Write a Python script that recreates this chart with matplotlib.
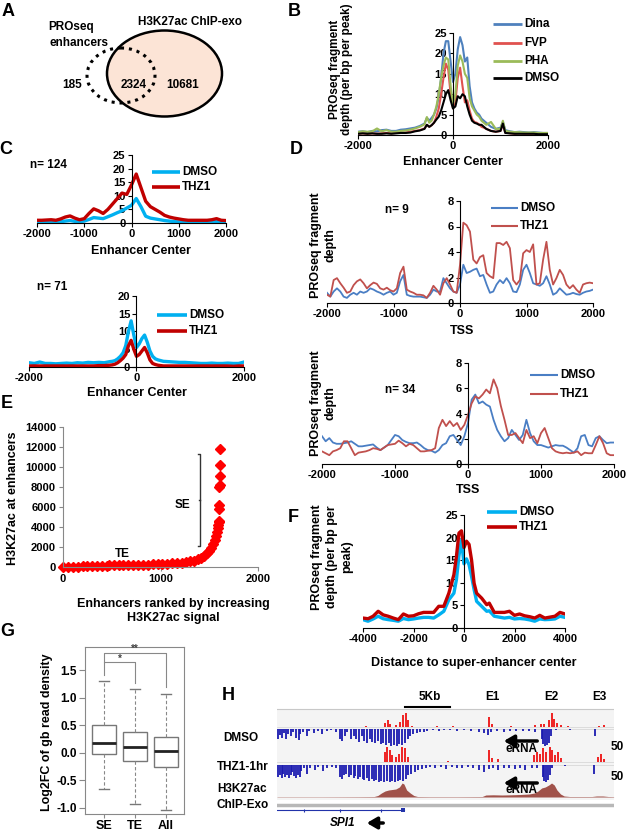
import numpy as np
import matplotlib.pyplot as plt
from matplotlib.lines import Line2D
from matplotlib.patches import Ellipse, Rectangle

plt.rcParams['font.family'] = ['Liberation Sans', 'DejaVu Sans']
plt.rcParams['font.weight'] = 'bold'
plt.rcParams['axes.unicode_minus'] = False

# ---------------- data ----------------
# A: Venn counts
venn_counts = [185, 2324, 10681]

# B: PROseq at enhancers, four drugs
b_x = [-2000, -1900, -1800, -1700, -1600, -1500, -1400, -1300, -1200, -1100, -1000, -900, -800, -700, -600,
       -550, -500, -450, -400, -350, -300, -250, -200, -150, -100, -50, 0, 50, 100, 150, 200, 250, 300, 350,
       400, 450, 500, 550, 600, 650, 700, 800, 900, 1000, 1050, 1100, 1200, 1300, 1400, 1500, 1600, 1700,
       1800, 1900, 2000]
b_dina = [0.8, 0.9, 0.7, 1.0, 0.9, 1.2, 1.3, 1.0, 1.0, 1.3, 1.4, 1.6, 1.8, 2.2, 2.8, 4.2, 3.5, 4.2, 5.0, 6.5,
          9.5, 14, 20, 23, 23, 18, 13, 15, 21, 24, 22, 18, 19, 12, 8, 6.5, 5.5, 5, 4, 3.5, 3, 2, 1.5, 1.8, 3.2,
          1.2, 0.9, 0.7, 0.8, 0.7, 0.6, 0.7, 0.6, 0.5, 0.5]
b_fvp = [0.3, 0.4, 0.3, 0.4, 0.3, 0.4, 0.5, 0.4, 0.5, 0.6, 0.6, 0.8, 1.0, 1.2, 1.6, 2.5, 2.0, 2.4, 3.0, 4.5,
         6.5, 10, 14, 17.5, 16, 10, 6.5, 8, 14, 16.5, 12, 8, 8.5, 6, 4, 3.2, 3, 2.6, 2, 1.8, 1.5, 1, 0.8, 1.0,
         2.6, 0.6, 0.4, 0.3, 0.4, 0.3, 0.3, 0.3, 0.3, 0.2, 0.2]
b_pha = [0.7, 0.9, 0.8, 0.9, 1.6, 0.9, 1.2, 0.8, 0.8, 1.0, 1.1, 1.3, 1.6, 2.0, 2.6, 4.4, 3.0, 3.5, 5.0, 7.0,
         10, 14, 17, 19, 18.5, 12, 7.5, 10, 17, 19.5, 18, 15, 14, 9, 7, 6, 5, 4.5, 3.5, 3, 2.5, 3.2, 1.5, 1.5,
         3.5, 1.0, 0.8, 0.7, 0.7, 0.6, 0.6, 0.6, 0.5, 0.5, 0.5]
b_dmso = [0.3, 0.4, 0.3, 0.4, 0.3, 0.3, 0.4, 0.3, 0.4, 0.5, 0.5, 0.6, 0.9, 1.1, 1.5, 2.5, 2.0, 2.4, 3.0, 3.8,
          4.5, 6, 8, 10, 11, 8.5, 6.5, 7, 9.5, 9, 10, 9.5, 7, 5, 3.5, 3, 2.8, 2.5, 2.5, 2, 1.5, 1, 0.8, 1.0,
          2.8, 0.5, 0.4, 0.3, 0.3, 0.3, 0.3, 0.3, 0.2, 0.2, 0.2]

# C: enhancers up (n=124) and down (n=71) after THZ1
c1_x = list(range(-2000, 2001, 100))
c1_dmso = [0.3, 0.3, 0.4, 0.4, 0.4, 0.5, 0.7, 0.9, 0.6, 0.5, 0.7, 1.3, 2.0, 1.8, 1.6, 2.3, 3.0, 3.8, 4.5, 5.5,
           6.5, 9, 6, 2.5, 1.8, 1.5, 1.2, 0.9, 0.7, 0.5, 0.4, 0.3, 0.3, 0.3, 0.3, 0.3, 0.3, 0.4, 0.6, 0.3, 0.3]
c1_thz1 = [1.0, 1.0, 1.1, 1.2, 1.0, 1.5, 2.2, 2.6, 1.8, 1.2, 1.6, 3.5, 5.2, 4.5, 3.5, 5, 7, 9, 11, 10.5,
           14, 18, 13, 8, 6, 5, 4, 2.8, 2.2, 1.8, 1.5, 1.2, 1.0, 1.0, 1.0, 1.0, 1.0, 1.2, 1.6, 1.0, 0.9]
c2_x = ([-2000, -1900, -1800, -1700, -1600, -1500, -1400, -1300, -1200, -1100, -1000, -900, -800, -700, -600, -500]
        + [-450, -400, -350, -300, -250, -200, -150, -100, -50, 0, 50, 100, 150, 200, 250, 300, 350, 400, 450, 500]
        + [600, 700, 800, 900, 1000, 1100, 1200, 1300, 1400, 1500, 1600, 1700, 1800, 1900, 2000])
c2_dmso = ([1.2, 1.0, 1.4, 1.0, 1.0, 0.9, 1.0, 1.1, 1.0, 1.2, 1.1, 1.3, 1.2, 1.3, 1.2, 1.5]
           + [1.6, 1.8, 2.3, 3, 4, 6, 10, 13, 9, 5.5, 6.5, 8, 9, 7, 4.5, 3, 2.3, 2, 1.8, 1.6]
           + [1.5, 1.4, 1.3, 1.3, 1.2, 1.1, 1.0, 1.0, 1.1, 1.0, 1.0, 1.1, 1.0, 1.0, 1.4])
c2_thz1 = ([0.3, 0.3, 0.3, 0.3, 0.3, 0.3, 0.3, 0.3, 0.3, 0.3, 0.3, 0.3, 0.3, 0.4, 0.4, 0.5]
           + [0.6, 0.8, 1.2, 1.8, 2.5, 3.5, 6, 7.5, 5, 3, 3.5, 4.5, 5.5, 4, 2, 1, 0.7, 0.5, 0.4, 0.3]
           + [0.3, 0.3, 0.3, 0.3, 0.3, 0.3, 0.3, 0.3, 0.3, 0.3, 0.3, 0.3, 0.2, 0.3, 0.3])

# D: promoters (TSS), n=9 and n=34
d_x = list(range(-2000, 2001, 50))
d1_dmso = [0.8, 0.5, 0.9, 1.15, 0.9, 0.5, 0.4, 0.65, 0.8, 0.65, 0.9, 0.8, 0.9, 1.15, 1.05, 0.9, 0.8, 0.65,
           0.8, 0.9, 0.65, 0.8, 1.7, 2.2, 0.65, 0.55, 0.5, 0.5, 0.5, 0.45, 0.4, 0.65, 1.05, 0.9, 0.9, 1.95,
           1.55, 1.15, 0.9, 0.8, 1.45, 3.0, 2.35, 2.45, 2.6, 2.7, 2.1, 2.2, 1.45, 0.8, 0.9, 1.45, 1.8, 1.55,
           1.95, 1.55, 0.9, 0.85, 1.45, 2.6, 3.0, 2.35, 1.55, 1.45, 1.35, 1.55, 2.1, 1.45, 0.65, 0.8, 1.15,
           0.9, 0.65, 0.7, 0.8, 0.7, 0.65, 0.8, 0.9, 0.95, 1.05]
d1_thz1 = [0.65, 0.5, 1.8, 1.95, 1.55, 1.2, 0.8, 0.9, 1.4, 1.7, 1.85, 1.55, 1.15, 1.4, 1.6, 1.5, 1.15, 1.05,
           1.2, 1.0, 0.9, 1.15, 2.35, 2.85, 1.05, 0.9, 0.8, 0.65, 0.65, 0.6, 0.4, 0.8, 1.35, 1.05, 0.65, 1.55,
           1.95, 1.45, 0.9, 0.8, 3.0, 6.3, 6.1, 5.6, 3.4, 3.1, 3.6, 3.75, 2.35, 2.1, 1.95, 4.7, 4.7, 4.55, 4.8,
           4.3, 1.8, 1.45, 1.8, 3.9, 4.15, 4.0, 4.6, 1.45, 1.55, 3.4, 4.8, 2.6, 1.45, 1.95, 2.6, 2.2, 1.45,
           1.15, 1.4, 1.05, 0.8, 1.45, 1.55, 1.6, 1.55]
d2_dmso = [2.2, 1.8, 2.05, 1.7, 1.6, 1.6, 1.65, 1.7, 1.8, 1.6, 1.4, 1.4, 1.45, 1.5, 1.55, 1.3, 1.1, 1.3, 1.5,
           1.9, 2.3, 2.2, 1.9, 1.75, 1.65, 1.65, 1.7, 1.5, 1.25, 1.1, 1.05, 0.9, 1.1, 1.5, 1.65, 2.2, 2.3, 1.9,
           1.5, 2.2, 3.25, 5.1, 5.5, 4.8, 4.95, 4.7, 4.55, 3.5, 2.7, 2.2, 1.8, 2.05, 2.7, 2.3, 1.9, 2.3, 3.5,
           2.45, 1.8, 1.5, 1.5, 1.4, 1.3, 1.4, 1.5, 1.45, 1.45, 1.3, 1.1, 0.9, 1.25, 2.2, 2.3, 1.5, 1.4, 2.05,
           2.2, 1.9, 1.65, 1.7, 1.7]
d2_thz1 = [1.0, 0.85, 0.7, 1.0, 1.1, 1.25, 1.8, 1.8, 1.25, 0.7, 0.9, 0.95, 1.0, 1.1, 1.25, 1.2, 1.1, 1.3, 1.5,
           1.55, 1.6, 1.85, 1.65, 1.4, 1.6, 1.5, 1.25, 1.0, 1.0, 1.05, 1.1, 1.25, 2.85, 3.5, 3.0, 3.4, 3.0,
           3.25, 2.7, 3.1, 3.9, 4.8, 5.35, 5.2, 5.5, 5.9, 5.6, 6.7, 6.0, 4.6, 3.5, 2.3, 2.3, 2.45, 2.05, 1.65,
           2.7, 2.05, 2.2, 1.65, 2.45, 2.85, 2.05, 1.25, 1.0, 0.9, 0.85, 0.9, 0.85, 0.9, 1.0, 0.7, 0.9, 0.85,
           0.85, 1.5, 2.2, 1.65, 0.85, 0.7, 0.7]

# E: enhancers ranked by H3K27ac signal
e_rank = [0, 50, 100, 150, 200, 250, 300, 350, 400, 450, 470, 520, 570, 620, 670, 720, 770, 820, 870, 920,
          970, 1020, 1070, 1120, 1170, 1220, 1260, 1300, 1340, 1380, 1420, 1450, 1480, 1500, 1520, 1540, 1555,
          1565, 1575, 1585, 1592, 1598, 1600, 1602, 1604, 1605, 1606, 1607, 1608, 1610]
e_signal = [20, 30, 40, 50, 60, 70, 80, 90, 100, 110, 160, 170, 180, 185, 190, 200, 210, 220, 240, 260,
            280, 300, 330, 360, 400, 450, 500, 560, 650, 780, 950, 1150, 1400, 1650, 1950, 2300, 2700,
            3100, 3500, 3900, 4200, 4500, 4650, 5800, 6200, 8000, 8200, 9100, 10200, 11800]

# F: super-enhancers
f_x = ([-4000, -3800, -3600, -3400, -3200, -3000, -2800, -2600, -2400, -2200, -2000, -1800, -1600, -1400, -1200, -1000]
       + [-800, -600, -400, -300, -200, -100, 0, 100, 200, 300, 400, 500, 700, 900]
       + [1000, 1200, 1400, 1600, 1800, 2000, 2200, 2400, 2600, 2800, 3000, 3200, 3400, 3600, 3800, 4000])
f_dmso = ([1.85, 1.5, 2.0, 2.6, 2.05, 1.85, 1.7, 1.5, 2.1, 1.85, 2.0, 2.2, 2.35, 2.35, 2.2, 2.9]
          + [3.7, 6.25, 7.7, 10.7, 16.0, 19.5, 14.2, 15.3, 14.0, 11.4, 8.5, 5.9, 4.8, 3.7]
          + [3.8, 2.6, 2.4, 2.2, 2.35, 2.0, 2.1, 2.0, 1.8, 1.5, 2.0, 1.85, 1.9, 2.0, 2.6, 2.35])
f_thz1 = ([2.2, 2.05, 2.6, 3.7, 2.9, 2.6, 2.2, 1.85, 3.1, 2.6, 2.7, 3.15, 3.45, 3.45, 3.45, 4.8]
          + [4.8, 7.7, 11.8, 15.8, 21.0, 21.5, 17.8, 19.2, 18.5, 15.0, 9.9, 7.7, 6.6, 5.15]
          + [5.5, 3.45, 3.45, 3.45, 3.7, 2.8, 3.1, 2.7, 2.5, 2.2, 2.8, 2.2, 2.4, 2.6, 3.45, 3.1])

# G: boxplot summary of Log2FC of gene-body read density
g_labels = ['SE', 'TE', 'All']
g_whislo = [-0.66, -0.92, -1.03]
g_q1 = [-0.03, -0.15, -0.25]
g_med = [0.17, 0.10, 0.03]
g_q3 = [0.51, 0.38, 0.28]
g_whishi = [1.30, 1.15, 1.07]

# H: SPI1 locus tracks (position in kb, signal scaled 0-50)
h_dmso_plus_pos = [9.9, 12.0, 12.3, 12.6, 13.2, 13.7, 14.0, 14.3, 14.6, 15.0, 17.8, 19.5, 23.6, 23.9, 26.0,
                   28.7, 29.3, 29.7, 30.2, 30.5, 30.8, 31.1, 31.5, 32.3, 35.8, 36.3]
h_dmso_plus_val = [3, 12, 20, 8, 5, 15, 35, 40, 20, 4, 2, 2, 30, 8, 3, 5, 10, 8, 20, 42, 25, 12, 6, 3, 4, 6]
h_dmso_minus_pos = [0.1, 0.3, 0.5, 0.8, 1.0, 1.2, 1.5, 1.8, 2.1, 2.4, 2.6, 2.9, 3.3, 3.6, 4.1, 4.5, 5.0, 5.5,
                    6.0, 6.6, 7.0, 7.2, 7.5, 7.8, 8.2, 8.5, 8.8, 9.1, 9.4, 9.7, 10.0, 10.3, 10.6, 10.9, 11.2,
                    11.5, 11.8, 12.1, 12.4, 12.7, 13.0, 13.3, 13.6, 13.9, 14.2, 14.5, 14.8, 15.1, 15.5, 15.9,
                    16.3, 16.7, 17.3, 18.0, 18.6, 19.2, 20.0, 20.8, 21.6, 22.4, 23.0, 23.4, 23.8, 24.4, 25.2,
                    25.9, 26.6, 27.3, 28.0, 28.7, 29.4, 29.6, 29.8, 30.0, 30.2, 30.4, 31.0, 32.5, 35.3]
h_dmso_minus_val = [30, 18, 25, 12, 28, 15, 22, 10, 25, 32, 14, 8, 20, 6, 12, 5, 14, 6, 4, 8, 30, 35, 20, 10,
                    28, 22, 30, 38, 20, 35, 40, 30, 38, 42, 35, 45, 40, 48, 42, 50, 46, 50, 44, 48, 40, 30,
                    22, 15, 12, 8, 10, 5, 4, 5, 3, 4, 6, 4, 5, 8, 12, 18, 10, 6, 8, 5, 7, 5, 6, 10, 30, 45,
                    50, 48, 40, 20, 4, 3, 20]
h_thz1_plus_pos = [12.0, 12.2, 12.5, 12.8, 13.2, 13.6, 13.9, 14.2, 14.5, 19.0, 23.6, 23.9, 24.5, 28.6, 28.9,
                   29.2, 29.6, 29.9, 30.3, 30.6, 30.9, 31.2, 31.5, 35.7, 36.0, 36.3]
h_thz1_plus_val = [30, 45, 35, 20, 15, 25, 45, 40, 15, 3, 35, 12, 8, 20, 30, 25, 40, 30, 45, 35, 20, 30, 12,
                   15, 25, 8]
h_thz1_minus_pos = [0.1, 0.3, 0.5, 0.7, 0.9, 1.1, 1.3, 1.5, 1.7, 1.9, 2.1, 2.3, 2.5, 2.7, 3.0, 3.3, 3.7, 4.2,
                    4.6, 5.1, 5.6, 6.1, 6.6, 7.0, 7.2, 7.4, 7.7, 8.0, 8.2, 8.5, 8.7, 9.0, 9.2, 9.5, 9.7, 10.0,
                    10.2, 10.5, 10.8, 11.0, 11.3, 11.6, 11.9, 12.2, 12.5, 12.8, 13.1, 13.4, 13.7, 14.0, 14.3,
                    14.6, 14.9, 15.3, 15.7, 16.1, 16.5, 17.0, 17.6, 18.2, 18.8, 19.4, 20.0, 20.6, 21.2, 21.8,
                    22.4, 23.0, 23.5, 24.0, 24.6, 25.2, 25.8, 26.4, 27.0, 27.6, 28.3, 28.9, 29.5, 29.7, 29.9,
                    30.1, 30.3, 30.6, 32.0, 35.2]
h_thz1_minus_val = [35, 30, 38, 25, 35, 28, 38, 30, 20, 32, 38, 30, 35, 18, 10, 25, 8, 15, 6, 18, 8, 5, 10,
                    35, 40, 30, 25, 35, 28, 38, 32, 42, 35, 40, 45, 38, 46, 42, 48, 44, 50, 46, 50, 48, 50,
                    46, 50, 48, 44, 46, 40, 30, 25, 20, 15, 12, 8, 6, 10, 5, 12, 6, 8, 10, 5, 8, 15, 20, 12,
                    8, 14, 10, 8, 12, 9, 16, 10, 8, 35, 48, 50, 45, 30, 8, 4, 25]
h_k27_pos = [0, 5, 9, 10.8, 11.2, 11.6, 12.0, 12.4, 12.8, 13.2, 13.6, 13.9, 14.1, 14.4, 14.8, 15.2, 15.6, 17,
             20, 22.8, 23.2, 24, 25, 26, 27, 28, 28.6, 29.0, 29.4, 29.8, 30.2, 30.5, 30.8, 31.1, 31.5, 31.9,
             32.5, 35, 35.5, 36.2, 36.8, 37.4]
h_k27_val = [0.3, 0.3, 0.4, 0.5, 1.5, 4, 6, 7, 7.5, 8, 10, 14, 13, 7, 4, 1.5, 0.5, 0.4, 0.4, 0.5, 2, 2.2, 2,
             2.2, 2.5, 3, 4, 6, 9, 10, 12, 14, 12, 7, 3, 1, 0.5, 0.5, 1, 1, 0.5, 0.4]

# ---------------- figure ----------------
W, H = 628, 834
fig = plt.figure(figsize=(W / 100, H / 100), dpi=100)

def add_ax(x0, y0, x1, y1):
    return fig.add_axes([x0 / W, 1 - y1 / H, (x1 - x0) / W, (y1 - y0) / H])

def ftext(x, y, s, size=8, ha='center', va='center', **kw):
    fig.text(x / W, 1 - y / H, s, size=size, ha=ha, va=va, weight='bold', **kw)

def fline(x0, x1, y, color, lw):
    fig.add_artist(Line2D([x0 / W, x1 / W], [1 - y / H, 1 - y / H], color=color, lw=lw,
                          solid_capstyle='butt'))

def legend(names, colors, lw, x0, x1, ys, size=8):
    for n, c, y in zip(names, colors, ys):
        fline(x0, x1, y, c, lw)
        ftext(x1 + 2, y, n, size=size, ha='left')

def excel(ax, xlim, ylim, xticks, yticks):
    ax.set_xlim(*xlim)
    ax.set_ylim(*ylim)
    for s in ('top', 'right'):
        ax.spines[s].set_visible(False)
    ax.spines['left'].set_position(('data', 0))
    ax.set_xticks(xticks)
    ax.set_yticks(yticks)
    ax.tick_params(labelsize=8, length=3, width=0.8, pad=1.5)
    ax.patch.set_alpha(0)

# panel letters
for letter, x, y in [('A', 8, 11), ('B', 294, 11), ('C', 6, 149), ('D', 296, 149),
                     ('E', 7, 403), ('F', 293, 517), ('G', 7, 632), ('H', 228, 696)]:
    ftext(x, y, letter, size=13)

# overlay in pixel coordinates for the Venn and annotations (below figure texts)
ov = fig.add_axes([0, 0, 1, 1])
ov.set_xlim(0, W)
ov.set_ylim(H, 0)
ov.axis('off')
ov.set_zorder(2)

# A: Venn
ov.add_patch(Ellipse((164.5, 73.5), 115, 86, fc='#FCE4D6', ec='black', lw=1.8))
ov.add_patch(Ellipse((121, 75.5), 68, 55, fill=False, ec='black', lw=2.2, ls=(0, (1, 1.6))))
ftext(48, 27, 'PROseq', size=8.5, ha='left')
ftext(50, 43, 'enhancers', size=8.5, ha='left')
ftext(190, 22, 'H3K27ac ChIP-exo', size=8.5)
for x, n in zip([72, 134, 183], venn_counts):
    ftext(x, 85, str(n), size=8.5)

# B
ax = add_ax(358, 33, 548, 135)
ax.plot(b_x, b_dina, color='#4F81BD', lw=1.5)
ax.plot(b_x, b_fvp, color='#E0524F', lw=1.5)
ax.plot(b_x, b_pha, color='#9BBB59', lw=1.5)
ax.plot(b_x, b_dmso, color='black', lw=1.5)
excel(ax, (-2000, 2000), (0, 25), [-2000, 0, 2000], range(0, 26, 5))
ftext(341, 69, 'PROseq fragment\ndepth (per bp per peak)', size=8.5, rotation=90, linespacing=1.1)
ftext(453, 162, 'Enhancer Center', size=9)
legend(['Dina', 'FVP', 'PHA', 'DMSO'], ['#4F81BD', '#E0524F', '#9BBB59', 'black'], 2,
       493, 522, [24, 43, 61, 78], size=8.5)

# C (upper)
ax = add_ax(37, 155, 226, 223)
ax.plot(c1_x, c1_dmso, color='#00B0F0', lw=2.4)
ax.plot(c1_x, c1_thz1, color='#C00000', lw=2.4)
excel(ax, (-2000, 2000), (0, 25), range(-2000, 2001, 1000), range(0, 26, 5))
ftext(141, 251, 'Enhancer Center', size=9)
ftext(48, 165, 'n= 124', size=8.5)
legend(['DMSO', 'THZ1'], ['#00B0F0', '#C00000'], 2.6, 152, 180, [172, 187], size=8.5)

# C (lower)
ax = add_ax(29, 296, 244, 367)
ax.plot(c2_x, c2_dmso, color='#00B0F0', lw=2.4)
ax.plot(c2_x, c2_thz1, color='#C00000', lw=2.4)
excel(ax, (-2000, 2000), (0, 20), [-2000, 0, 2000], range(0, 21, 5))
ftext(137, 393, 'Enhancer Center', size=9)
ftext(52, 287, 'n= 71', size=8.5)
legend(['DMSO', 'THZ1'], ['#00B0F0', '#C00000'], 2.6, 157, 187, [315, 331], size=8.5)

# D (upper)
ax = add_ax(327, 201, 593, 303)
ax.plot(d_x, d1_dmso, color='#4A7EC4', lw=1.3)
ax.plot(d_x, d1_thz1, color='#C0504D', lw=1.3)
excel(ax, (-2000, 2000), (0, 8), range(-2000, 2001, 1000), range(0, 9, 2))
ftext(462, 331, 'TSS', size=9)
ftext(397, 210, 'n= 9', size=8.5)
ftext(323, 245, 'PROseq fragment\ndepth', size=9, rotation=90, linespacing=1.25)
legend(['DMSO', 'THZ1'], ['#4A7EC4', '#C0504D'], 1.5, 491, 518, [208, 226], size=8.5)

# D (lower)
ax = add_ax(322, 363, 614, 464)
ax.plot(d_x, d2_dmso, color='#4A7EC4', lw=1.3)
ax.plot(d_x, d2_thz1, color='#C0504D', lw=1.3)
excel(ax, (-2000, 2000), (0, 8), range(-2000, 2001, 1000), range(0, 9, 2))
ftext(468, 490, 'TSS', size=9)
ftext(400, 390, 'n= 34', size=8.5)
ftext(323, 403, 'PROseq fragment\ndepth', size=9, rotation=90, linespacing=1.25)
legend(['DMSO', 'THZ1'], ['#4A7EC4', '#C0504D'], 1.5, 530, 558, [375, 394], size=8.5)

# E
ax = add_ax(63, 427, 258, 567)
ax.plot(e_rank, e_signal, 'D', color='#FF0000', ms=5.5, mec='#FF0000', clip_on=False)
ax.set_xlim(0, 2000)
ax.set_ylim(0, 14000)
ax.set_xticks([0, 1000, 2000])
ax.set_yticks(range(0, 14001, 2000))
for s in ('top', 'right'):
    ax.spines[s].set_visible(False)
for s in ('left', 'bottom'):
    ax.spines[s].set_color('#888888')
ax.tick_params(labelsize=8, length=3, width=0.8, pad=2, color='#888888')
ax.patch.set_alpha(0)
ax.plot([1385, 1405, 1405, 1385], [11300, 11300, 2100, 2100], color='#333333', lw=1, clip_on=False)
ax.plot([1390, 1405], [6700, 6700], color='#333333', lw=1)
ax.text(1220, 6200, 'SE', ha='center', va='center', size=8.5, weight='bold')
ax.text(605, 1300, 'TE', ha='center', va='center', size=8.5, weight='bold')
ftext(13, 498, 'H3K27ac at enhancers', size=9, rotation=90)
ftext(173, 611, 'Enhancers ranked by increasing\nH3K27ac signal', size=9, linespacing=1.2)

# F
ax = add_ax(363, 515, 565, 628)
ax.plot(f_x, f_dmso, color='#00B0F0', lw=2.4)
ax.plot(f_x, f_thz1, color='#C00000', lw=2.4)
excel(ax, (-4000, 4000), (0, 25), range(-4000, 4001, 2000), range(0, 26, 5))
ftext(474, 663, 'Distance to super-enhancer center', size=9)
ftext(332, 557, 'PROseq fragment\ndepth (per bp per\npeak)', size=9, rotation=90, linespacing=1.35, ha='center')
legend(['DMSO', 'THZ1'], ['#00B0F0', '#C00000'], 2.6, 487, 517, [512, 527], size=8.5)

# G
ax = add_ax(85, 647, 184, 814)
stats = [dict(label=l, whislo=a, q1=b, med=c, q3=d, whishi=e)
         for l, a, b, c, d, e in zip(g_labels, g_whislo, g_q1, g_med, g_q3, g_whishi)]
ax.bxp(stats, positions=[1, 2, 3], widths=0.8, showfliers=False, patch_artist=True,
       boxprops=dict(facecolor='white', edgecolor='#777777', lw=1),
       medianprops=dict(color='#222222', lw=2),
       whiskerprops=dict(color='#888888', ls=(0, (3, 2)), lw=0.8),
       capprops=dict(color='#777777', lw=1), capwidths=0.33)
ax.set_xlim(0.39, 3.58)
ax.set_ylim(-1.11, 1.92)
ax.set_yticks([-1.0, -0.5, 0.0, 0.5, 1.0, 1.5])
ax.set_yticklabels(['%.1f' % v for v in [-1.0, -0.5, 0.0, 0.5, 1.0, 1.5]])
for s in ax.spines.values():
    s.set_color('#888888')
ax.tick_params(labelsize=8.5, length=4, width=0.8, color='#888888', pad=2)
ax.tick_params(axis='x', labelsize=9, length=3, pad=1)
ax.plot([1, 1, 2, 2], [1.41, 1.64, 1.64, 1.26], color='#888888', lw=0.8)
ax.plot([1, 1, 3, 3], [1.64, 1.81, 1.81, 1.19], color='#888888', lw=0.8)
ax.text(1.5, 1.62, '*', ha='center', va='bottom', size=7, color='#444444')
ax.text(2.0, 1.79, '**', ha='center', va='bottom', size=7, color='#444444')
ftext(47, 732, 'Log2FC of gb read density', size=9, rotation=90)

# H
ax = add_ax(277, 700, 614, 834)
ax.set_xlim(0, 37.44)
ax.set_ylim(834, 700)
ax.axis('off')
ax.add_patch(Rectangle((0, 709), 37.44, 91, fc='#f4f4f4', ec='none', zorder=0))
ax.plot([0, 37.44], [709, 709], color='#c8c8c8', lw=0.8)
sc = 17 / 50.0
tracks = [(h_dmso_plus_pos, h_dmso_plus_val, 727, -1, '#EE1111'),
          (h_dmso_minus_pos, h_dmso_minus_val, 729, 1, '#1A1AB0'),
          (h_thz1_plus_pos, h_thz1_plus_val, 762, -1, '#EE1111'),
          (h_thz1_minus_pos, h_thz1_minus_val, 765, 1, '#1A1AB0')]
for pos, val, base, sign, col in tracks:
    ax.plot([0, 37.44], [base, base], color='#d8d8d8', lw=0.6)
    ax.vlines(pos, base, base + sign * np.array(val) * sc, color=col, lw=1.3)
k27 = np.array(h_k27_val)
ax.fill_between(h_k27_pos, 797, 797 - k27, color='#A0524A', lw=0)
ax.plot([0, 37.44], [805, 805], color='#b8b8b8', lw=2.5)
ax.plot([0, 14.1], [810, 810], color='#2233AA', lw=0.8)
ax.vlines([3.0, 7.0, 11.5], 808.5, 811.5, color='#2233AA', lw=0.8)
ax.add_patch(Rectangle((13.8, 808), 0.4, 4, fc='#2233AA', ec='none'))

ov.plot([405, 450], [707, 707], color='black', lw=1.5)
ftext(430, 697, '5Kb', size=8.5)
for x, s in [(492, 'E1'), (551, 'E2'), (599, 'E3')]:
    ftext(x, 697, s, size=8.5)
ftext(241, 738, 'DMSO', size=8.5)
ftext(243, 767, 'THZ1-1hr', size=8.5)
ftext(242, 789, 'H3K27ac', size=8.5)
ftext(243, 805, 'ChIP-Exo', size=8.5)
ftext(617, 747, '50', size=8.5)
ftext(617, 777, '50', size=8.5)
for y_arrow, y_txt in [(741, 749), (783, 790)]:
    ov.annotate('', xy=(501, y_arrow), xytext=(540, y_arrow),
                arrowprops=dict(arrowstyle='-|>,head_length=0.6,head_width=0.35', color='black', lw=2.5))
    ftext(522, y_txt, 'eRNA', size=8.5)
ftext(343, 823, 'SPI1', size=8.5, style='italic')
ov.annotate('', xy=(364, 823), xytext=(386, 823),
            arrowprops=dict(arrowstyle='-|>,head_length=0.6,head_width=0.35', color='black', lw=2.5))

fig.savefig('out.png', dpi=100)
